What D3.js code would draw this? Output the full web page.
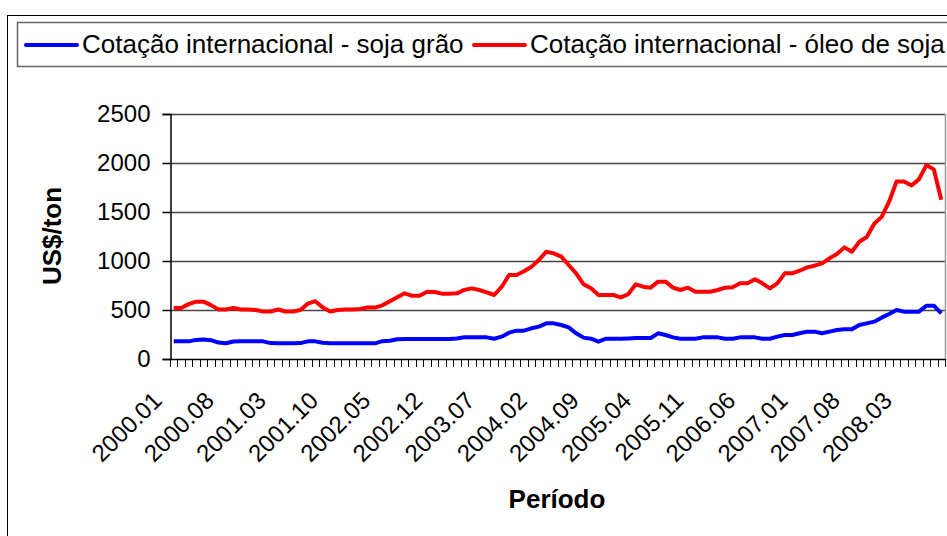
<!DOCTYPE html>
<html>
<head>
<meta charset="utf-8">
<script src="https://cdn.jsdelivr.net/npm/d3@7"></script>
<style>
  body { margin: 0; background: #fff; }
  svg { display: block; font-family: "Liberation Sans", Arial, sans-serif; }
</style>
</head>
<body>
<svg id="chart" width="947" height="536"></svg>
<script>
// monthly categories 2000.01 .. 2008.08
var months = [];
for (var y = 2000; y <= 2008; y++) {
  for (var m = 1; m <= 12; m++) {
    if (y == 2008 && m > 8) break;
    months.push(y + "." + (m < 10 ? "0" + m : m));
  }
}

var tickLabels = ["2000.01", "2000.08", "2001.03", "2001.10", "2002.05", "2002.12", "2003.07",
  "2004.02", "2004.09", "2005.04", "2005.11", "2006.06", "2007.01", "2007.08", "2008.03"];

var yTicks = [0, 500, 1000, 1500, 2000, 2500];

var seriesNames = ["Cotação internacional - soja grão", "Cotação internacional - óleo de soja"];
var seriesColors = ["#0000ff", "#ff0000"];

// US$/ton
var sojaGrao = [
  180, 180, 180, 195, 200, 192, 168, 160, 178, 180, 180, 180,
  180, 162, 160, 160, 160, 162, 180, 180, 165, 160, 160, 160,
  160, 160, 160, 160, 182, 187, 202, 204, 204, 204, 204, 204,
  204, 204, 210, 221, 221, 221, 221, 207, 228, 269, 289, 289,
  313, 330, 364, 364, 347, 323, 262, 218, 207, 177, 207, 207,
  207, 210, 214, 214, 214, 262, 245, 221, 207, 207, 207, 221,
  221, 221, 207, 207, 221, 221, 221, 207, 207, 228, 245, 245,
  262, 279, 279, 262, 279, 296, 303, 303, 347, 364, 381, 422,
  459, 500, 483, 483, 483, 544, 544, 466
];

var oleoSoja = [
  520, 520, 560, 585, 585, 550, 505, 505, 520, 505, 505, 500,
  485, 485, 505, 485, 485, 500, 565, 590, 525, 485, 500, 505,
  505, 510, 525, 525, 548, 590, 630, 670, 645, 645, 687, 684,
  667, 667, 670, 705, 721, 704, 680, 653, 735, 857, 857, 895,
  942, 1010, 1095, 1078, 1044, 959, 874, 762, 721, 653, 653, 653,
  629, 662, 762, 738, 728, 789, 789, 728, 704, 728, 687, 687,
  687, 704, 728, 731, 772, 772, 813, 772, 721, 772, 874, 874,
  901, 935, 952, 976, 1027, 1071, 1139, 1095, 1197, 1245, 1380, 1450,
  1605, 1812, 1812, 1770, 1833, 1979, 1935, 1625
];

var svg = d3.select("#chart");

var plot = { left: 170, right: 945, top: 114, bottom: 359 };

var x = d3.scaleBand()
  .domain(months)
  .range([plot.left, plot.right]);

var yScale = d3.scaleLinear()
  .domain([0, 2500])
  .range([plot.bottom, plot.top]);

// chart area border
svg.append("rect")
  .attr("x", 7.5).attr("y", 15.5)
  .attr("width", 960).attr("height", 540)
  .attr("fill", "none").attr("stroke", "#000");

// gridlines
svg.append("g")
  .selectAll("line")
  .data(yTicks.filter(function(d) { return d > 0; }))
  .enter().append("line")
  .attr("x1", plot.left).attr("x2", plot.right)
  .attr("y1", function(d) { return Math.round(yScale(d)) + 0.5; })
  .attr("y2", function(d) { return Math.round(yScale(d)) + 0.5; })
  .attr("stroke", "#444").attr("stroke-width", 1.5);

// plot right border
svg.append("line")
  .attr("x1", plot.right + 0.5).attr("x2", plot.right + 0.5)
  .attr("y1", plot.top).attr("y2", plot.bottom)
  .attr("stroke", "#999").attr("stroke-width", 1.5);

// y axis
var yAxis = d3.axisLeft(yScale).tickValues(yTicks).tickFormat(d3.format("d"))
  .tickSize(8).tickPadding(12);
var gy = svg.append("g")
  .attr("transform", "translate(" + (plot.left + 0.5) + ",0)")
  .call(yAxis);
gy.select(".domain").attr("stroke", "#000").attr("stroke-width", 1.5);
gy.selectAll(".tick line").attr("stroke", "#000").attr("stroke-width", 1.5);
gy.selectAll(".tick text")
  .attr("font-size", 24).attr("fill", "#000")
  .attr("font-family", "Liberation Sans, Arial, sans-serif");

// x axis: ticks between categories
var xAxisG = svg.append("g");
xAxisG.append("line")
  .attr("x1", plot.left).attr("x2", plot.right)
  .attr("y1", plot.bottom + 0.5).attr("y2", plot.bottom + 0.5)
  .attr("stroke", "#000").attr("stroke-width", 1.5);
xAxisG.selectAll("line.tk")
  .data(months.concat(["end"]))
  .enter().append("line")
  .attr("class", "tk")
  .attr("x1", function(d, i) { return Math.round(plot.left + i * x.step()) + 0.5; })
  .attr("x2", function(d, i) { return Math.round(plot.left + i * x.step()) + 0.5; })
  .attr("y1", plot.bottom).attr("y2", plot.bottom + 8)
  .attr("stroke", "#000").attr("stroke-width", 1);

xAxisG.selectAll("text")
  .data(tickLabels)
  .enter().append("text")
  .attr("transform", function(d) {
    var cx = x(d) + x.bandwidth() / 2 - 10.5;
    return "translate(" + cx + "," + (plot.bottom + 43) + ") rotate(-45)";
  })
  .attr("text-anchor", "end")
  .attr("font-size", 24)
  .attr("fill", "#000")
  .text(function(d) { return d; });

// lines
var line = d3.line()
  .x(function(d, i) { return x(months[i]) + x.bandwidth() / 2; })
  .y(function(d) { return yScale(d); });

[sojaGrao, oleoSoja].forEach(function(s, k) {
  svg.append("path")
    .datum(s)
    .attr("d", line)
    .attr("fill", "none")
    .attr("stroke", seriesColors[k])
    .attr("stroke-width", 4)
    .attr("stroke-linejoin", "round");
});

// axis titles
svg.append("text")
  .attr("transform", "translate(61,236) rotate(-90)")
  .attr("text-anchor", "middle")
  .attr("font-size", 26).attr("font-weight", "bold")
  .text("US$/ton");

svg.append("text")
  .attr("x", 557).attr("y", 508)
  .attr("text-anchor", "middle")
  .attr("font-size", 26).attr("font-weight", "bold")
  .text("Período");

// legend
var legend = svg.append("g");
legend.append("rect")
  .attr("x", 17.5).attr("y", 22.5)
  .attr("width", 950).attr("height", 44)
  .attr("fill", "#fff").attr("stroke", "#666").attr("stroke-width", 1.5);

var legX = [26, 474];
seriesNames.forEach(function(name, k) {
  legend.append("line")
    .attr("x1", legX[k]).attr("x2", legX[k] + 51)
    .attr("y1", 45).attr("y2", 45)
    .attr("stroke", seriesColors[k]).attr("stroke-width", 4)
    .attr("stroke-linecap", "round");
  legend.append("text")
    .attr("x", legX[k] + 56).attr("y", 53)
    .attr("font-size", 26)
    .text(name);
});
</script>
</body>
</html>
